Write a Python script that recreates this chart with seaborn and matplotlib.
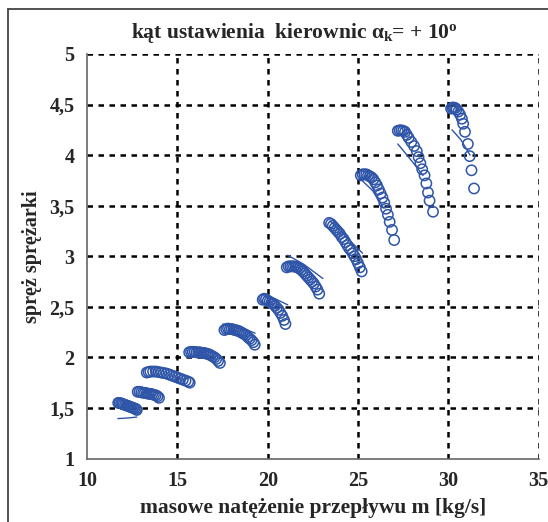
import numpy as np
import pandas as pd
import matplotlib
matplotlib.use("Agg")
import matplotlib.pyplot as plt
from matplotlib.lines import Line2D
from matplotlib.ticker import FuncFormatter
import seaborn as sns

# measured points, one list pair per speed line
x1 = [11.72, 11.8, 11.88, 11.95, 12.02, 12.1, 12.18, 12.25, 12.33, 12.4, 12.48, 12.55, 12.62, 12.7, 12.75]
y1 = [1.55, 1.55, 1.545, 1.54, 1.535, 1.53, 1.525, 1.52, 1.515, 1.51, 1.505, 1.5, 1.495, 1.49, 1.48]
x2 = [12.8, 12.9, 13.0, 13.1, 13.2, 13.3, 13.4, 13.5, 13.6, 13.7, 13.8, 13.9, 13.98]
y2 = [1.66, 1.66, 1.655, 1.65, 1.65, 1.645, 1.64, 1.64, 1.635, 1.63, 1.625, 1.615, 1.6]
x3 = [13.3, 13.4, 13.5, 13.65, 13.8, 13.95, 14.1, 14.25, 14.4, 14.55, 14.7, 14.85, 15.0, 15.15, 15.3, 15.45, 15.6, 15.68]
y3 = [1.85, 1.855, 1.86, 1.86, 1.86, 1.855, 1.85, 1.845, 1.84, 1.83, 1.82, 1.81, 1.8, 1.79, 1.78, 1.77, 1.76, 1.75]
x4 = [15.65, 15.75, 15.85, 15.95, 16.05, 16.15, 16.25, 16.35, 16.45, 16.55, 16.65, 16.75, 16.85, 16.95, 17.05, 17.15, 17.25, 17.35]
y4 = [2.05, 2.055, 2.055, 2.055, 2.05, 2.05, 2.05, 2.045, 2.045, 2.04, 2.035, 2.03, 2.02, 2.01, 2.0, 1.985, 1.965, 1.945]
x5 = [17.6, 17.7, 17.8, 17.9, 18.0, 18.1, 18.2, 18.3, 18.4, 18.5, 18.6, 18.7, 18.8, 18.9, 19.0, 19.1, 19.2, 19.28]
y5 = [2.27, 2.28, 2.285, 2.28, 2.28, 2.275, 2.27, 2.265, 2.26, 2.25, 2.24, 2.23, 2.22, 2.2, 2.185, 2.17, 2.15, 2.125]
x6 = [19.72, 19.8, 19.9, 20.0, 20.1, 20.2, 20.3, 20.4, 20.5, 20.6, 20.7, 20.8, 20.9, 20.98]
y6 = [2.57, 2.58, 2.575, 2.56, 2.55, 2.54, 2.53, 2.51, 2.49, 2.47, 2.44, 2.41, 2.37, 2.33]
x7 = [21.05, 21.15, 21.25, 21.35, 21.45, 21.55, 21.65, 21.75, 21.85, 21.95, 22.05, 22.15, 22.25, 22.35, 22.45, 22.55, 22.65, 22.75, 22.85]
y7 = [2.89, 2.9, 2.9, 2.9, 2.9, 2.895, 2.89, 2.88, 2.865, 2.85, 2.83, 2.81, 2.79, 2.77, 2.75, 2.73, 2.7, 2.67, 2.63]
x8 = [23.4, 23.5, 23.6, 23.7, 23.8, 23.9, 24.0, 24.1, 24.2, 24.3, 24.4, 24.5, 24.6, 24.7, 24.8, 24.9, 25.0, 25.1, 25.2]
y8 = [3.33, 3.32, 3.3, 3.28, 3.26, 3.24, 3.22, 3.19, 3.17, 3.14, 3.11, 3.08, 3.06, 3.03, 3.0, 2.97, 2.93, 2.89, 2.85]
x9 = [25.15, 25.25, 25.35, 25.45, 25.55, 25.65, 25.75, 25.85, 25.95, 26.05, 26.15, 26.25, 26.35, 26.45, 26.55, 26.65, 26.75, 26.88, 27.0]
y9 = [3.8, 3.81, 3.81, 3.81, 3.8, 3.79, 3.78, 3.76, 3.73, 3.7, 3.66, 3.62, 3.58, 3.53, 3.47, 3.41, 3.34, 3.26, 3.16]
x10 = [27.2, 27.3, 27.4, 27.5, 27.6, 27.7, 27.8, 27.95, 28.1, 28.25, 28.35, 28.45, 28.55, 28.68, 28.78, 28.87, 28.96, 29.15]
y10 = [4.24, 4.245, 4.245, 4.24, 4.23, 4.2, 4.17, 4.13, 4.09, 4.04, 3.98, 3.92, 3.86, 3.8, 3.72, 3.63, 3.55, 3.44]
x11 = [30.15, 30.22, 30.3, 30.38, 30.45, 30.55, 30.65, 30.75, 30.82, 30.92, 31.08, 31.18, 31.28, 31.42]
y11 = [4.46, 4.47, 4.47, 4.465, 4.45, 4.43, 4.4, 4.36, 4.31, 4.23, 4.11, 3.99, 3.85, 3.67]

# thin trend curves drawn next to some of the point groups
curve_x = [[11.7, 12.2, 12.75], [17.5, 18.4, 19.3], [19.8, 20.4, 21.1], [21.1, 22.0, 23.05],
           [23.45, 24.4, 25.25], [25.1, 25.8, 26.4], [27.2, 27.8, 28.6], [30.2, 30.7, 31.2]]
curve_y = [[1.395, 1.4, 1.41], [2.33, 2.3, 2.24], [2.6, 2.58, 2.52], [3.01, 2.92, 2.78],
           [3.35, 3.18, 3.03], [3.77, 3.65, 3.48], [4.11, 3.98, 3.8], [4.25, 4.15, 4.0]]

xs = [x1, x2, x3, x4, x5, x6, x7, x8, x9, x10, x11]
ys = [y1, y2, y3, y4, y5, y6, y7, y8, y9, y10, y11]
df = pd.concat([pd.DataFrame({'m': x, 'pi': y, 'line': i}) for i, (x, y) in enumerate(zip(xs, ys))])

blue = '#2f55a8'
sns.set_style('white')
plt.rcParams['font.family'] = ['Liberation Serif', 'DejaVu Serif']
plt.rcParams['mathtext.fontset'] = 'custom'
plt.rcParams['mathtext.rm'] = 'Liberation Serif:bold'
plt.rcParams['mathtext.it'] = 'Liberation Serif:bold'

fig = plt.figure(figsize=(5.48, 5.22), dpi=100)
ax = fig.add_axes([0.159, 0.1216, 0.824, 0.775])

for cx, cy in zip(curve_x, curve_y):
    sns.lineplot(x=cx, y=cy, ax=ax, color=blue, linewidth=1.0, sort=False, estimator=None)

sns.scatterplot(data=df, x='m', y='pi', ax=ax, marker='o', s=55,
                facecolor='none', edgecolor=blue, linewidth=1.1, legend=False)

ax.set_xlim(10, 35)
ax.set_ylim(1, 5)
ax.set_xticks([10, 15, 20, 25, 30, 35])
ax.set_yticks([1, 1.5, 2, 2.5, 3, 3.5, 4, 4.5, 5])
ax.yaxis.set_major_formatter(FuncFormatter(lambda v, p: ('%g' % v).replace('.', ',')))
ax.tick_params(axis='both', which='major', labelsize=14.5, length=4, width=1,
               color='#666666', direction='out', pad=5)
for lab in ax.get_xticklabels() + ax.get_yticklabels():
    lab.set_fontweight('bold')

ax.set_axisbelow(True)
ax.grid(True, color='black', linestyle=(0, (2.2, 2.2)), linewidth=1.8)
ax.xaxis.get_gridlines()[0].set_visible(False)
ax.yaxis.get_gridlines()[0].set_visible(False)

for side in ['top', 'right']:
    ax.spines[side].set_visible(False)
for side in ['left', 'bottom']:
    ax.spines[side].set_color('#666666')
    ax.spines[side].set_linewidth(1.2)

ax.set_xlabel('masowe natężenie przepływu m [kg/s]', fontsize=15.5, fontweight='bold', labelpad=5)
ax.set_ylabel('spręż sprężarki', fontsize=14.5, fontweight='bold', labelpad=5)

fig.text(0.538, 1 - 33 / 522, r'kąt ustawienia  kierownic $\alpha_{k}$= + 10$^{o}$',
         ha='center', va='center', fontsize=15.5, fontweight='bold')

# frame around the figure (only left and top edges are visible)
fig.add_artist(Line2D([8 / 548, 8 / 548], [0, 1 - 9 / 522], color='#444444', linewidth=1.3))
fig.add_artist(Line2D([8 / 548, 1], [1 - 9 / 522, 1 - 9 / 522], color='#444444', linewidth=1.3))

fig.savefig('out.png', dpi=100)
